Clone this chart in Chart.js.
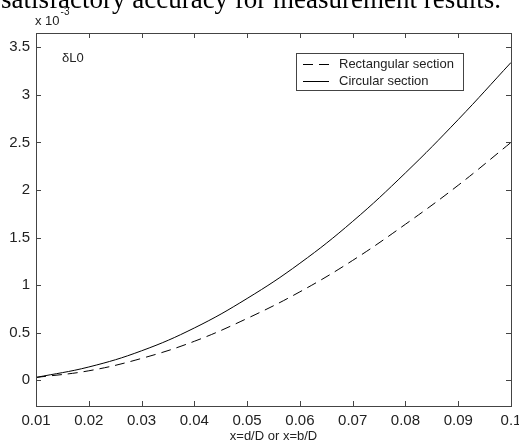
<!DOCTYPE html>
<html>
<head>
<meta charset="utf-8">
<script src="https://cdn.jsdelivr.net/npm/chart.js@4/dist/chart.umd.min.js"></script>
<style>
html,body{margin:0;padding:0;background:#fff;}
#wrap{width:519px;height:446px;position:relative;}
</style>
</head>
<body>
<div id="wrap"><canvas id="c" width="519" height="446"></canvas></div>
<script>
const xValues = [0.01, 0.02, 0.03, 0.04, 0.05, 0.06, 0.07, 0.08, 0.09, 0.10];
const rectangularSection = [0.03, 0.10, 0.23, 0.41, 0.65, 0.93, 1.26, 1.64, 2.05, 2.50];
const circularSection = [0.03, 0.14, 0.31, 0.55, 0.86, 1.23, 1.67, 2.18, 2.74, 3.34];
const xTicks = [0.01, 0.02, 0.03, 0.04, 0.05, 0.06, 0.07, 0.08, 0.09, 0.1];
const yTicks = [0, 0.5, 1, 1.5, 2, 2.5, 3, 3.5];
const seriesNames = ['Rectangular section', 'Circular section'];
const xAxisTitle = 'x=d/D or x=b/D';
const exponentText = ['x 10', '-3'];
const innerLabel = 'δL0';
const captionText = 'satisfactory accuracy for measurement results.';

const axisColor = '#444';
const textColor = '#222';
const sans = 'Liberation Sans, Arial, sans-serif';

const matlabPlugin = {
  id: 'matlab',
  beforeDraw(chart) {
    const ctx = chart.ctx;
    ctx.save();
    ctx.fillStyle = '#fff';
    ctx.fillRect(0, 0, chart.width, chart.height);
    ctx.fillStyle = '#000';
    ctx.font = '27px "Liberation Serif", "Times New Roman", serif';
    ctx.textBaseline = 'alphabetic';
    ctx.textAlign = 'left';
    ctx.fillText(captionText, 1, 8);
    ctx.restore();
  },
  afterDraw(chart) {
    const ctx = chart.ctx;
    const {left, right, top, bottom} = chart.chartArea;
    const xs = chart.scales.x, ys = chart.scales.y;
    ctx.save();
    ctx.strokeStyle = axisColor;
    ctx.lineWidth = 1;
    ctx.strokeRect(Math.round(left) + 0.5, Math.round(top) + 0.5, Math.round(right - left), Math.round(bottom - top));
    const tl = 5;
    ctx.beginPath();
    xs.ticks.forEach(t => {
      const px = Math.round(xs.getPixelForValue(t.value)) + 0.5;
      ctx.moveTo(px, bottom); ctx.lineTo(px, bottom - tl);
      ctx.moveTo(px, top); ctx.lineTo(px, top + tl);
    });
    ys.ticks.forEach(t => {
      const py = Math.round(ys.getPixelForValue(t.value)) + 0.5;
      ctx.moveTo(left, py); ctx.lineTo(left + tl, py);
      ctx.moveTo(right, py); ctx.lineTo(right - tl, py);
    });
    ctx.stroke();

    // x axis title
    ctx.fillStyle = textColor;
    ctx.font = '13px ' + sans;
    ctx.textAlign = 'center';
    ctx.textBaseline = 'middle';
    ctx.fillText(xAxisTitle, (left + right) / 2, 436);

    // exponent label
    ctx.textAlign = 'left';
    ctx.textBaseline = 'alphabetic';
    ctx.font = '13px ' + sans;
    ctx.fillText(exponentText[0], 35, 25);
    const w = ctx.measureText(exponentText[0]).width;
    ctx.font = '10px ' + sans;
    ctx.fillText(exponentText[1], 35 + w + 1, 15);

    // inner label
    ctx.font = '13px ' + sans;
    ctx.fillText(innerLabel, 62, 62);

    // legend box
    const bx = 296.5, by = 53.5, bw = 167, bh = 37;
    ctx.fillStyle = '#fff';
    ctx.fillRect(bx, by, bw, bh);
    ctx.strokeStyle = axisColor;
    ctx.strokeRect(bx, by, bw, bh);
    const rows = [64, 81];
    chart.data.datasets.forEach((ds, i) => {
      ctx.strokeStyle = ds.borderColor;
      ctx.lineWidth = 1;
      ctx.setLineDash(ds.borderDash || []);
      ctx.beginPath();
      ctx.moveTo(303, rows[i] + 0.5);
      ctx.lineTo(329, rows[i] + 0.5);
      ctx.stroke();
      ctx.setLineDash([]);
      ctx.fillStyle = textColor;
      ctx.font = '13px ' + sans;
      ctx.textBaseline = 'middle';
      ctx.fillText(ds.label, 339, rows[i]);
    });
    ctx.restore();
  }
};

const pts = arr => xValues.map((x, i) => ({x, y: arr[i]}));

new Chart(document.getElementById('c'), {
  type: 'line',
  data: {
    datasets: [
      {label: seriesNames[0], data: pts(rectangularSection), borderColor: '#000', borderWidth: 1, borderDash: [10, 6], pointRadius: 0, tension: 0.4, fill: false},
      {label: seriesNames[1], data: pts(circularSection), borderColor: '#000', borderWidth: 1, pointRadius: 0, tension: 0.4, fill: false}
    ]
  },
  options: {
    responsive: false,
    animation: false,
    devicePixelRatio: 1,
    layout: {padding: {top: 33, right: 8, left: 0, bottom: 0}},
    plugins: {legend: {display: false}, tooltip: {enabled: false}, title: {display: false}},
    scales: {
      x: {
        type: 'linear', min: 0.01, max: 0.1,
        afterBuildTicks: s => { s.ticks = xTicks.map(v => ({value: v})); },
        afterFit: s => { s.height = 40; s.paddingLeft = 0; s.paddingRight = 0; },
        grid: {display: false, drawTicks: false}, border: {display: false},
        ticks: {padding: 6, color: textColor, font: {family: sans, size: 15}, maxRotation: 0, autoSkip: false, callback: v => String(v)}
      },
      y: {
        type: 'linear', min: -0.27, max: 3.65,
        afterBuildTicks: s => { s.ticks = yTicks.map(v => ({value: v})); },
        afterFit: s => { s.width = 36; s.paddingTop = 0; s.paddingBottom = 0; },
        grid: {display: false, drawTicks: false}, border: {display: false},
        ticks: {padding: 6, color: textColor, font: {family: sans, size: 15}, autoSkip: false, callback: v => String(v)}
      }
    }
  },
  plugins: [matlabPlugin]
});
</script>
</body>
</html>
